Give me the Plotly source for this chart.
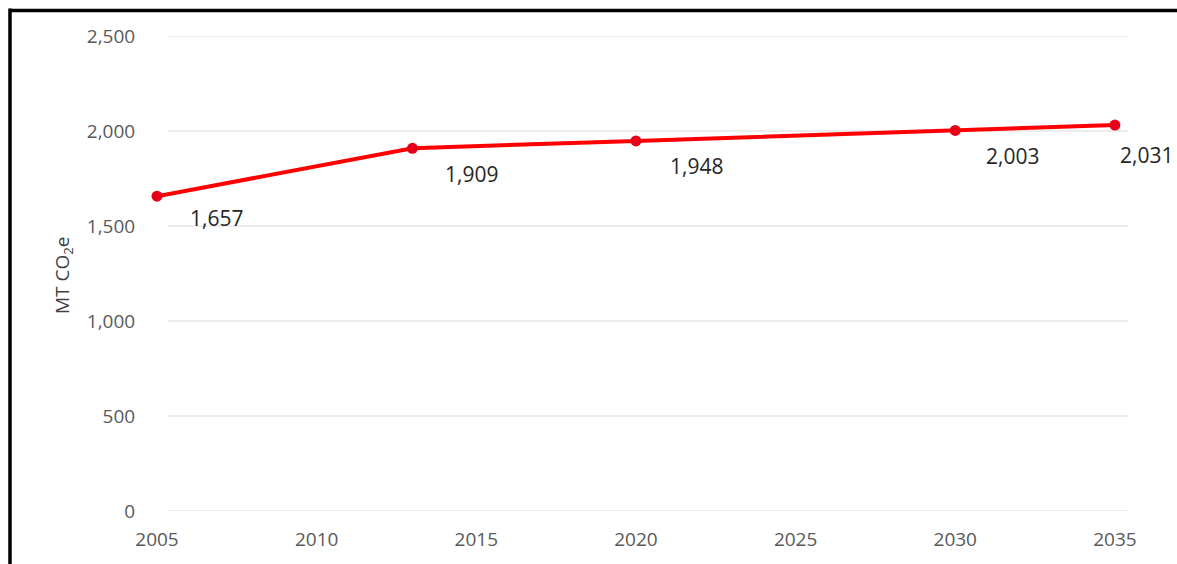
import plotly.graph_objects as go

years = [2005, 2013, 2020, 2030, 2035]
emissions = [1657, 1909, 1948, 2003, 2031]
y_ticks = [0, 500, 1000, 1500, 2000, 2500]
x_ticks = [2005, 2010, 2015, 2020, 2025, 2030, 2035]
y_title = "MT CO<sub>2</sub>e"

FONT = "Open Sans"

fig = go.Figure()
fig.add_trace(go.Scatter(
    x=years, y=emissions, mode="lines+markers",
    line=dict(color="#FF0000", width=4),
    marker=dict(color="#E8001A", size=11),
    cliponaxis=False, showlegend=False, hoverinfo="x+y",
))

# data labels
shifts = [(59, -22), (59, -26), (61, -25), (57, -26), (32, -30)]
for x, y, (dx, dy) in zip(years, emissions, shifts):
    fig.add_annotation(x=x, y=y, text=f"{y:,}", showarrow=False,
                       xshift=dx, yshift=dy,
                       font=dict(family=FONT, size=21, color="#262626"))

# gridlines
for v in y_ticks:
    fig.add_shape(type="line", xref="paper", yref="y",
                  x0=(168 - 157) / 971, x1=1.0, y0=v, y1=v,
                  line=dict(color="#D9D9D9", width=1), layer="below")

# outer border (top and left edges visible)
fig.add_shape(type="line", xref="paper", yref="paper",
              x0=-0.152, x1=(1177 - 157) / 971, y0=1.0535, y1=1.0535,
              line=dict(color="black", width=3.5))
fig.add_shape(type="line", xref="paper", yref="paper",
              x0=-0.1514, x1=-0.1514, y0=1.058, y1=-0.3,
              line=dict(color="black", width=3.5))

# y-axis title
fig.add_annotation(xref="paper", yref="paper", x=(63 - 157) / 971, y=(513 - 276) / 477,
                   xanchor="center", yanchor="middle",
                   text=y_title, textangle=-90, showarrow=False,
                   font=dict(family=FONT, size=19, color="#404040"))

fig.update_layout(
    width=1177, height=564,
    margin=dict(l=157, r=49, t=36, b=51),
    paper_bgcolor="white", plot_bgcolor="white",
    font=dict(family=FONT),
    xaxis=dict(range=[2005, 2035.41], tickvals=x_ticks, showgrid=False,
               zeroline=False, showline=False, ticks="outside", ticklen=11,
               tickcolor="rgba(0,0,0,0)",
               tickfont=dict(family=FONT, size=19, color="#595959")),
    yaxis=dict(range=[0, 2500], tickvals=y_ticks, tickformat=",",
               showgrid=False, zeroline=False, showline=False,
               ticks="outside", ticklen=17, tickcolor="rgba(0,0,0,0)",
               tickfont=dict(family=FONT, size=19, color="#595959")),
)

fig.write_html("out.html", config={"displayModeBar": False})
